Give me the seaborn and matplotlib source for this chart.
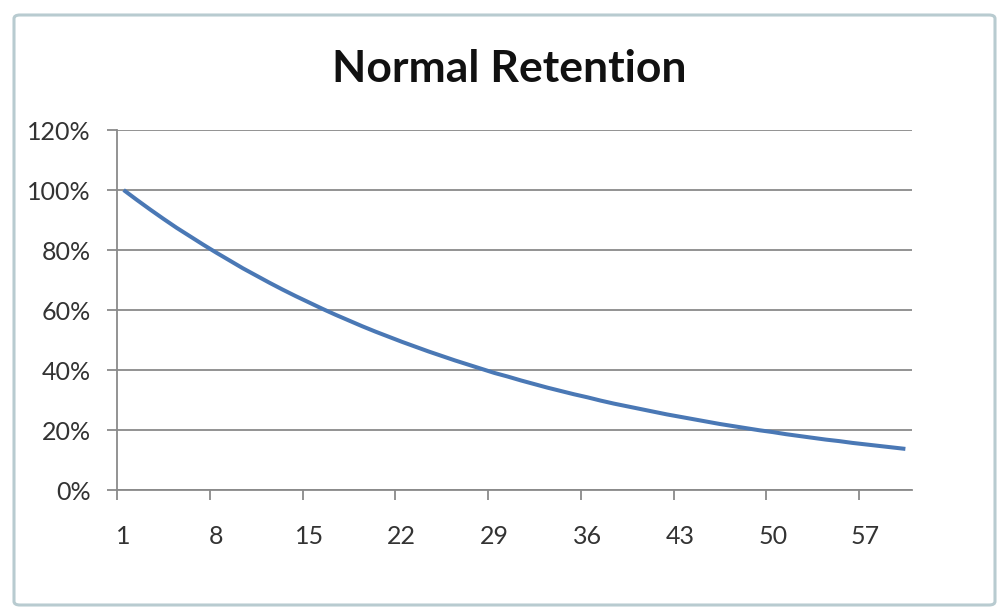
import matplotlib
matplotlib.use("Agg")
import matplotlib.pyplot as plt
import seaborn as sns
import pandas as pd
from matplotlib.patches import FancyBboxPatch
from matplotlib.ticker import FixedLocator, FuncFormatter

# ---- data ----
days = list(range(1, 61))
retention = [100.0, 96.7, 93.5, 90.4, 87.4, 84.6, 81.8, 79.1, 76.5, 73.9,
             71.5, 69.1, 66.8, 64.6, 62.5, 60.4, 58.4, 56.5, 54.6, 52.8,
             51.1, 49.4, 47.8, 46.2, 44.7, 43.2, 41.8, 40.4, 39.0, 37.8,
             36.5, 35.3, 34.1, 33.0, 31.9, 30.9, 29.8, 28.8, 27.9, 27.0,
             26.1, 25.2, 24.4, 23.6, 22.8, 22.0, 21.3, 20.6, 19.9, 19.3,
             18.6, 18.0, 17.4, 16.8, 16.3, 15.7, 15.2, 14.7, 14.2, 13.7]
x_tick_labels = [1, 8, 15, 22, 29, 36, 43, 50, 57]
y_ticks = [0, 20, 40, 60, 80, 100, 120]
title = "Normal Retention"

df = pd.DataFrame({"day": days, "retention": retention})

sns.set_theme(style="white")
plt.rcParams["font.family"] = ["Lato", "DejaVu Sans"]

fig = plt.figure(figsize=(9.98, 6.09), dpi=100)
fig.patch.set_facecolor("white")

# chart-area border
border = FancyBboxPatch((14 / 998, 1 - 605 / 609), (995 - 14) / 998, (605 - 15) / 609,
                        boxstyle="round,pad=0,rounding_size=0.006",
                        transform=fig.transFigure, facecolor="none",
                        edgecolor="#b8cbd0", linewidth=2.2)
fig.patches.append(border)

ax = fig.add_axes([117 / 998, 1 - 490 / 609, (912 - 117) / 998, (490 - 130) / 609])
ax.set_facecolor("white")

sns.lineplot(data=df, x="day", y="retention", ax=ax, color="#4a78b5",
             linewidth=2.9, solid_capstyle="butt")

ax.set_xlim(0.5, 60.5)
ax.set_ylim(0, 120)

# y axis
ax.set_yticks(y_ticks)
ax.yaxis.set_major_formatter(FuncFormatter(lambda v, p: f"{int(v)}%"))
ax.yaxis.grid(True, color="#8a8a8a", linewidth=1.3)
ax.xaxis.grid(False)

# x axis: tick marks between categories, labels centered on categories
ax.xaxis.set_major_locator(FixedLocator([v - 0.5 for v in x_tick_labels]))
ax.xaxis.set_major_formatter(FuncFormatter(lambda v, p: ""))
ax.xaxis.set_minor_locator(FixedLocator(x_tick_labels))
ax.xaxis.set_minor_formatter(FuncFormatter(lambda v, p: f"{int(round(v))}"))

ax.tick_params(axis="x", which="major", direction="out", length=7, width=1.3,
               color="#8a8a8a", bottom=True)
ax.tick_params(axis="x", which="minor", length=0, labelsize=18, colors="#333333",
               pad=25, bottom=True)
ax.tick_params(axis="y", which="major", direction="out", length=7, width=1.3,
               color="#8a8a8a", labelsize=18, labelcolor="#333333", pad=12, left=True)

for side in ["top", "right"]:
    ax.spines[side].set_visible(False)
for side in ["left", "bottom"]:
    ax.spines[side].set_visible(True)
    ax.spines[side].set_color("#8a8a8a")
    ax.spines[side].set_linewidth(1.3)

ax.set_xlabel("")
ax.set_ylabel("")

fig.text(509 / 998, 1 - 69 / 609, title, ha="center", va="center",
         fontsize=32, fontweight="bold", color="#111111")

fig.savefig("out.png", dpi=100, facecolor="white")
